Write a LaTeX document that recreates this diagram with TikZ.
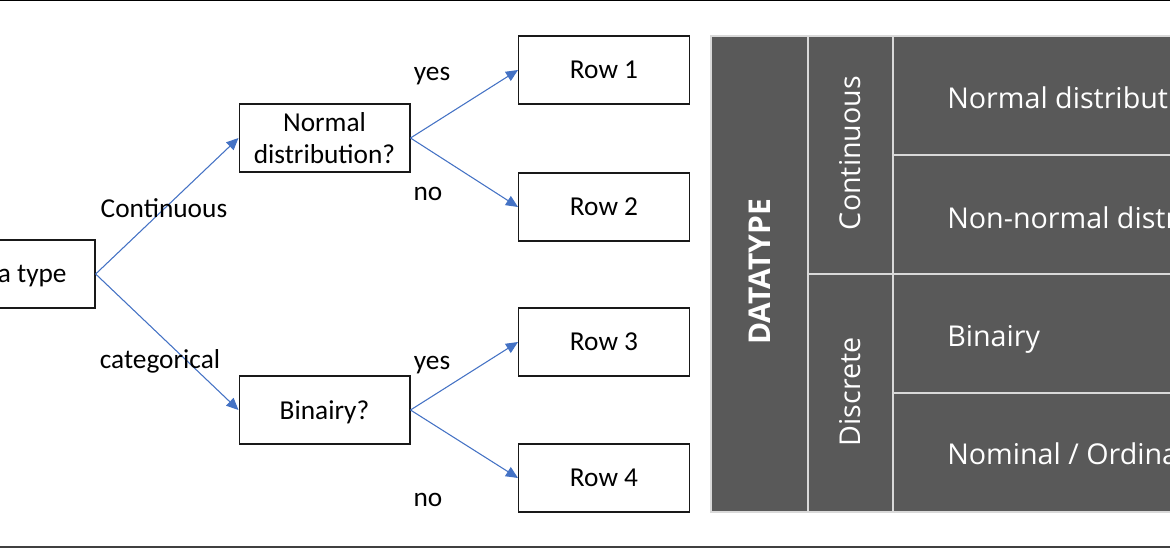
\documentclass[tikz,border=0pt]{standalone}
\usepackage{fontspec}
\setmainfont{Carlito}
\newfontfamily\tablefont{Open Sans}
\usetikzlibrary{arrows.meta,positioning}
\definecolor{arrowblue}{HTML}{4472C4}
\definecolor{tablegray}{HTML}{595959}
\definecolor{gridgray}{HTML}{D9D9D9}

\begin{document}
\begin{tikzpicture}[x=0.75pt,y=-0.75pt,
		box/.style={draw=black!90,line width=1pt,minimum width=128pt,minimum height=51pt,inner sep=0pt,text depth=0pt,align=center,font=\fontsize{20.5}{24.5}\selectfont},
		lbl/.style={inner sep=0pt,anchor=base,font=\fontsize{20.5}{24.5}\selectfont},
		link/.style={draw=arrowblue,line width=0.8pt,-{Triangle[length=9pt,width=8pt]}},
		cell/.style={inner sep=0pt,text depth=0pt,text=white,font=\tablefont\fontsize{21.5}{25}\selectfont}]
		\useasboundingbox (0,0) rectangle (1170,550);
		\clip (0,0) rectangle (1170,550);
		
		% frame lines at top and bottom
		\draw[line width=1pt,black] (0,0.6) -- (1170,0.6);
		\draw[line width=1.5pt,black!75] (0,547) -- (1170,547);
		
		% the decision boxes
		\node[box,minimum width=123pt] (dtype) at (13,274) {Data type};
		\node[box] (normal) at (324.5,138) {Normal\\distribution?};
		\node[box] (binairy) at (324.5,410) {Binairy?};
		
		% the four rows
		\foreach \mynode/\y in {row1/70,row2/207,row3/342,row4/478} {
			\node[box] (\mynode) at (604,\y) {};
		}
		\foreach \n in {1,...,4} {
			\node[box,draw=none] at (row\n) {Row \n};
		}
		
		% arrows between the boxes
		\foreach \from/\to in {dtype/normal,dtype/binairy,normal/row1,normal/row2,binairy/row3,binairy/row4} {
			\draw[link] (\from.east) -- (\to.west);
		}
		
		% labels on the arrows (placed on their baselines)
		\node[lbl] (lcont) at (164,217) {Continuous};
		\node[lbl] (lcat) at (160,368) {categorical};
		\foreach \mynode/\x/\y/\mytext in {yes1/432/80/yes,no1/428/200/no,yes2/432/369/yes,no2/428/506/no} {
			\node[lbl] (\mynode) at (\x,\y) {\mytext};
		}
		
		% the table on the right
		\fill[tablegray] (711,36) rectangle (1180,512);
		\draw[gridgray,line width=0.8pt] (711,36) rectangle (1180,512);
		\draw[gridgray,line width=0.8pt] (808,36) -- (808,512);
		\draw[gridgray,line width=0.8pt] (893,36) -- (893,512);
		\draw[gridgray,line width=0.8pt] (808,274) -- (1180,274);
		\draw[gridgray,line width=0.8pt] (893,155) -- (1180,155);
		\draw[gridgray,line width=0.8pt] (893,393) -- (1180,393);
		
		\node[cell,rotate=90,font=\tablefont\bfseries\fontsize{22.5}{26}\selectfont] (dt) at (760,272) {DATATYPE};
		\node[cell,rotate=90] (cont) at (850,153) {Continuous};
		\node[cell,rotate=90] (disc) at (850,392) {Discrete};
		\foreach \mynode/\y/\mytext in {c1/97.5/{Normal distribution},c2/217.5/{Non-normal distribution},c3/336/{Binairy},c4/454/{Nominal / Ordinal}} {
			\node[cell,anchor=west] (\mynode) at (947,\y) {\mytext};
		}
\end{tikzpicture}
\end{document}
